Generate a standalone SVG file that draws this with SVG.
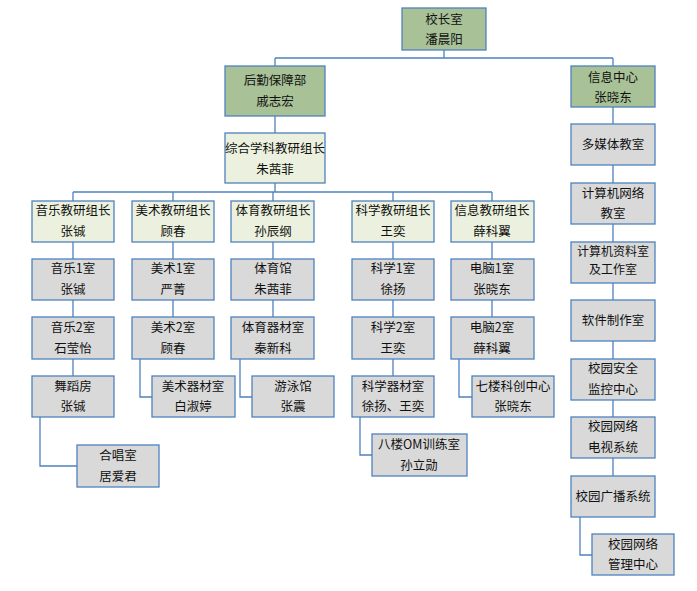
<svg xmlns="http://www.w3.org/2000/svg" width="697" height="591" viewBox="0 0 697 591">
<style>
rect{stroke:#4f81bd;stroke-width:1.3}
.g{fill:#a8c197}.l{fill:#ebf1de}.d{fill:#d9d9d9}
text{font-family:"Noto Sans CJK SC","Liberation Sans",sans-serif;font-size:12.5px;fill:#111;text-anchor:middle}
#c path{fill:none;stroke:#4f81bd;stroke-width:1.3}
</style>
<rect width="697" height="591" fill="#fff" style="stroke:none"/>
<g id="c">
<path d="M444 50V58M275 58H613M275 58V66M613 58V66M275 116V133M275 183V192M73 192H492M73 192V201M173 192V201M273 192V201M393 192V201M492 192V201"/>
<path d="M73 242V259M73 300V317M73 359V376M40 417V466H77"/>
<path d="M173 242V259M173 300V317M140 359V397H152"/>
<path d="M273 242V259M273 300V317M240 359V397H252"/>
<path d="M393 242V259M393 300V317M393 359V376M360 417V455H372"/>
<path d="M492 242V259M492 300V317M459 359V397H472"/>
<path d="M613 107V124M613 165V183M613 224V242M613 283V300M613 341V359M613 400V417M613 458V476M580 517V555H592"/>
</g>
<g id="n0"><rect class="g" x="402" y="8" width="84" height="42"/><text x="444" y="24">校长室</text><text x="444" y="44">潘晨阳</text></g>
<g id="n1"><rect class="g" x="225" y="66" width="100" height="50"/><text x="275" y="85">后勤保障部</text><text x="275" y="106">戚志宏</text></g>
<g id="n2"><rect class="l" x="225" y="133" width="100" height="50"/><text x="275" y="153">综合学科教研组长</text><text x="275" y="174">朱茜菲</text></g>
<g id="n3"><rect class="g" x="571" y="66" width="84" height="41"/><text x="613" y="82">信息中心</text><text x="613" y="102">张晓东</text></g>
<g id="a0"><rect class="l" x="32" y="201" width="82" height="41"/><text x="73" y="215">音乐教研组长</text><text x="73" y="236">张铖</text></g>
<g id="a1"><rect class="d" x="32" y="259" width="82" height="41"/><text x="73" y="273">音乐1室</text><text x="73" y="294">张铖</text></g>
<g id="a2"><rect class="d" x="32" y="317" width="82" height="42"/><text x="73" y="332">音乐2室</text><text x="73" y="353">石莹怡</text></g>
<g id="a3"><rect class="d" x="32" y="376" width="82" height="41"/><text x="73" y="391">舞蹈房</text><text x="73" y="411">张铖</text></g>
<g id="a4"><rect class="d" x="77" y="445" width="82" height="42"/><text x="118" y="460">合唱室</text><text x="118" y="481">居爱君</text></g>
<g id="b0"><rect class="l" x="132" y="201" width="82" height="41"/><text x="173" y="215">美术教研组长</text><text x="173" y="236">顾春</text></g>
<g id="b1"><rect class="d" x="132" y="259" width="82" height="41"/><text x="173" y="273">美术1室</text><text x="173" y="294">严菁</text></g>
<g id="b2"><rect class="d" x="132" y="317" width="82" height="42"/><text x="173" y="332">美术2室</text><text x="173" y="353">顾春</text></g>
<g id="b3"><rect class="d" x="152" y="376" width="83" height="41"/><text x="193" y="391">美术器材室</text><text x="193" y="411">白淑婷</text></g>
<g id="c0"><rect class="l" x="231" y="201" width="83" height="41"/><text x="273" y="215">体育教研组长</text><text x="273" y="236">孙辰纲</text></g>
<g id="c1"><rect class="d" x="231" y="259" width="83" height="41"/><text x="273" y="273">体育馆</text><text x="273" y="294">朱茜菲</text></g>
<g id="c2"><rect class="d" x="231" y="317" width="83" height="42"/><text x="273" y="332">体育器材室</text><text x="273" y="353">秦新科</text></g>
<g id="c3"><rect class="d" x="252" y="376" width="82" height="41"/><text x="293" y="391">游泳馆</text><text x="293" y="411">张震</text></g>
<g id="d0"><rect class="l" x="352" y="201" width="82" height="41"/><text x="393" y="215">科学教研组长</text><text x="393" y="236">王奕</text></g>
<g id="d1"><rect class="d" x="352" y="259" width="82" height="41"/><text x="393" y="273">科学1室</text><text x="393" y="294">徐扬</text></g>
<g id="d2"><rect class="d" x="352" y="317" width="82" height="42"/><text x="393" y="332">科学2室</text><text x="393" y="353">王奕</text></g>
<g id="d3"><rect class="d" x="352" y="376" width="82" height="41"/><text x="393" y="391">科学器材室</text><text x="393" y="411">徐扬、王奕</text></g>
<g id="d4"><rect class="d" x="372" y="434" width="95" height="42"/><text x="419" y="449">八楼OM训练室</text><text x="419" y="470">孙立勋</text></g>
<g id="e0"><rect class="l" x="451" y="201" width="83" height="41"/><text x="492" y="215">信息教研组长</text><text x="492" y="236">薛科翼</text></g>
<g id="e1"><rect class="d" x="451" y="259" width="83" height="41"/><text x="492" y="273">电脑1室</text><text x="492" y="294">张晓东</text></g>
<g id="e2"><rect class="d" x="451" y="317" width="83" height="42"/><text x="492" y="332">电脑2室</text><text x="492" y="353">薛科翼</text></g>
<g id="e3"><rect class="d" x="472" y="376" width="82" height="41"/><text x="513" y="391">七楼科创中心</text><text x="513" y="411">张晓东</text></g>
<g id="f1"><rect class="d" x="571" y="124" width="84" height="41"/><text x="613" y="149">多媒体教室</text></g>
<g id="f2"><rect class="d" x="571" y="183" width="84" height="41"/><text x="613" y="198">计算机网络</text><text x="613" y="218">教室</text></g>
<g id="f3"><rect class="d" x="571" y="242" width="84" height="41"/><text x="613" y="256" style="font-size:12px">计算机资料室</text><text x="613" y="274" style="font-size:12px">及工作室</text></g>
<g id="f4"><rect class="d" x="571" y="300" width="84" height="41"/><text x="613" y="325">软件制作室</text></g>
<g id="f5"><rect class="d" x="571" y="359" width="84" height="41"/><text x="613" y="373">校园安全</text><text x="613" y="394">监控中心</text></g>
<g id="f6"><rect class="d" x="571" y="417" width="84" height="41"/><text x="613" y="431">校园网络</text><text x="613" y="452">电视系统</text></g>
<g id="f7"><rect class="d" x="571" y="476" width="84" height="41"/><text x="613" y="501">校园广播系统</text></g>
<g id="f8"><rect class="d" x="592" y="534" width="82" height="41"/><text x="633" y="549">校园网络</text><text x="633" y="569">管理中心</text></g>
</svg>
